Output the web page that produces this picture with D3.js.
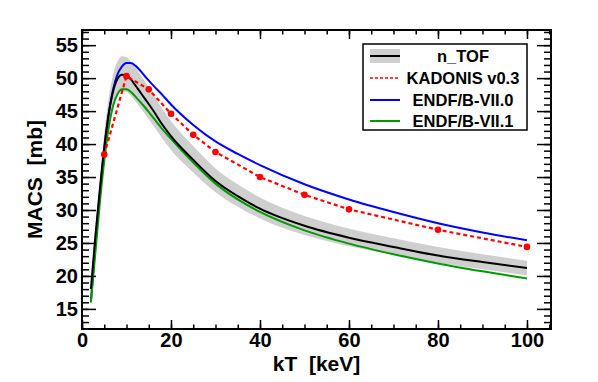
<!DOCTYPE html>
<html><head><meta charset="utf-8">
<script src="https://cdn.jsdelivr.net/npm/d3@7"></script>
<style>body{margin:0;background:#fff}svg{display:block}text{font-family:"Liberation Sans",Arial,sans-serif;font-weight:bold;white-space:pre}</style>
</head><body><svg id="c" width="598" height="382"></svg>
<script>
// kT grid for the continuous curves (keV)
const kT = [2,3,4,5,6,7,8,9,10,11,12,14,16,18,20,25,30,35,40,50,60,70,80,90,100];
// n_TOF MACS (mb) and its uncertainty band
const ntof     = [18.0,26.0,33.0,39.5,44.6,48.0,49.9,50.5,50.4,49.8,48.9,47.0,45.1,43.0,41.2,37.6,34.4,32.1,30.2,27.6,25.8,24.4,23.1,22.1,21.2];
const ntofHigh = [19.0,27.4,34.8,41.6,47.0,50.6,52.6,53.3,53.2,52.5,51.6,49.6,47.6,45.4,43.5,39.7,36.3,33.9,31.9,29.1,27.2,25.7,24.4,23.3,22.3];
const ntofLow  = [17.1,24.7,31.4,37.5,42.4,45.6,47.4,48.0,47.9,47.3,46.5,44.7,42.8,40.9,39.1,35.7,32.7,30.5,28.7,26.2,24.5,23.2,22.0,21.0,20.1];
// ENDF/B-VII.0
const endf70 = [16.0,24.8,32.5,39.0,44.5,48.3,50.6,51.8,52.3,52.3,51.9,50.4,48.9,47.5,46.0,42.9,40.4,38.5,36.8,33.9,31.6,29.7,28.0,26.6,25.4];
// ENDF/B-VII.1
const endf71 = [16.0,23.5,31.0,37.5,42.5,45.8,47.6,48.3,48.3,47.9,47.2,45.7,44.0,42.3,40.8,37.2,34.0,31.6,29.7,26.9,24.9,23.3,21.9,20.7,19.6];
// KADONIS v0.3 points
const kadKT  = [5,10,15,20,25,30,40,50,60,80,100];
const kadVal = [38.4,50.3,48.3,44.6,41.4,38.8,35.0,32.3,30.1,27.0,24.4];
// axis ticks
const xTicks = [0,20,40,60,80,100];
const yTicks = [15,20,25,30,35,40,45,50,55];
const legendLabels = ["n_TOF","KADONIS v0.3","ENDF/B-VII.0","ENDF/B-VII.1"];

const L=82,T=30,R=551,B=329;
const svg=d3.select("#c");
const x=d3.scaleLinear().domain([0,105.4]).range([L,R]);
const y=d3.scaleLinear().domain([11.95,57.3]).range([B,T]);

svg.append("defs").append("clipPath").attr("id","clip").append("rect")
  .attr("x",L).attr("y",T).attr("width",R-L).attr("height",B-T);
const g=svg.append("g").attr("clip-path","url(#clip)");

const band=kT.map((k,i)=>({k,lo:ntofLow[i],hi:ntofHigh[i]}));
g.append("path").datum(band)
  .attr("d",d3.area().x(d=>x(d.k)).y0(d=>y(d.lo)).y1(d=>y(d.hi)).curve(d3.curveMonotoneX))
  .attr("fill","#cfcfcf");

const line=d3.line().x(d=>x(d[0])).y(d=>y(d[1])).curve(d3.curveMonotoneX);
function curve(vals,color){
  g.append("path").datum(kT.map((k,i)=>[k,vals[i]])).attr("d",line)
   .attr("fill","none").attr("stroke",color).attr("stroke-width",2);
}
curve(endf70,"#0000ff");
curve(endf71,"#009900");
curve(ntof,"#000000");

const kad=kadKT.map((k,i)=>[k,kadVal[i]]);
g.append("path").datum(kad).attr("d",d3.line().x(d=>x(d[0])).y(d=>y(d[1])))
  .attr("fill","none").attr("stroke","#ff0000").attr("stroke-width",2.2).attr("stroke-dasharray","4,3");
g.selectAll("circle.k").data(kad).enter().append("circle")
  .attr("cx",d=>x(d[0])).attr("cy",d=>y(d[1])).attr("r",3.3).attr("fill","#ff0000");

// axes
function style(sel){sel.select(".domain").remove();sel.selectAll("line").attr("stroke","#000").attr("stroke-width",1.5);
  sel.selectAll("text").attr("font-size",20).attr("font-weight","bold").attr("fill","#000").attr("font-family","Liberation Sans, Arial, sans-serif");}
const yMinor=d3.range(12,58,1), xMinor=d3.range(0,106,5);
svg.append("g").attr("transform",`translate(${L},0)`).call(d3.axisLeft(y).tickValues(yMinor).tickSize(-7).tickFormat("")).call(style);
svg.append("g").attr("transform",`translate(${L},0)`).call(d3.axisLeft(y).tickValues(yTicks).tickSize(-14).tickPadding(4)).call(style);
svg.append("g").attr("transform",`translate(${R},0)`).call(d3.axisRight(y).tickValues(yMinor).tickSize(-7).tickFormat("")).call(style);
svg.append("g").attr("transform",`translate(${R},0)`).call(d3.axisRight(y).tickValues(yTicks).tickSize(-14).tickFormat("")).call(style);
svg.append("g").attr("transform",`translate(0,${B})`).call(d3.axisBottom(x).tickValues(xMinor).tickSize(-4.5).tickFormat("")).call(style);
svg.append("g").attr("transform",`translate(0,${B})`).call(d3.axisBottom(x).tickValues(xTicks).tickSize(-9).tickPadding(4)).call(style);
svg.append("g").attr("transform",`translate(0,${T})`).call(d3.axisTop(x).tickValues(xMinor).tickSize(-4.5).tickFormat("")).call(style);
svg.append("g").attr("transform",`translate(0,${T})`).call(d3.axisTop(x).tickValues(xTicks).tickSize(-9).tickFormat("")).call(style);

svg.append("rect").attr("x",L).attr("y",T).attr("width",R-L).attr("height",B-T)
  .attr("fill","none").attr("stroke","#000").attr("stroke-width",2);

svg.append("text").attr("x",(L+R)/2).attr("y",371).attr("text-anchor","middle").attr("font-size",21).attr("xml:space","preserve").text("kT  [keV]");
svg.append("text").attr("transform",`translate(42,${(T+B)/2}) rotate(-90)`).attr("text-anchor","middle").attr("font-size",21).attr("xml:space","preserve").text("MACS  [mb]");

// legend
const lg=svg.append("g");
lg.append("rect").attr("x",363).attr("y",44).attr("width",164).attr("height",86).attr("fill","#fff").attr("stroke","#000").attr("stroke-width",1.5);
const rowY=[56,78,100,121];
lg.append("rect").attr("x",370).attr("y",rowY[0]-7).attr("width",30).attr("height",14).attr("fill","#cfcfcf");
lg.append("line").attr("x1",370).attr("x2",400).attr("y1",rowY[0]).attr("y2",rowY[0]).attr("stroke","#000").attr("stroke-width",2);
lg.append("line").attr("x1",370).attr("x2",400).attr("y1",rowY[1]).attr("y2",rowY[1]).attr("stroke","#ff0000").attr("stroke-width",1.6).attr("stroke-dasharray","3,2");
lg.append("line").attr("x1",370).attr("x2",400).attr("y1",rowY[2]).attr("y2",rowY[2]).attr("stroke","#0000ff").attr("stroke-width",2);
lg.append("line").attr("x1",370).attr("x2",400).attr("y1",rowY[3]).attr("y2",rowY[3]).attr("stroke","#009900").attr("stroke-width",2);
legendLabels.forEach((t,i)=>{
  lg.append("text").attr("x",463).attr("y",rowY[i]).attr("dy","0.36em").attr("text-anchor","middle").attr("font-size",16.5).text(t);
});
</script></body></html>
